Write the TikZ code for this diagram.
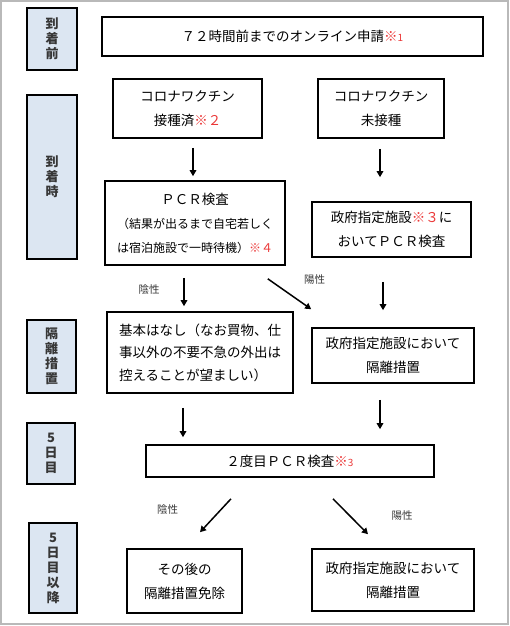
\documentclass[tikz,border=0pt]{standalone}
\usepackage{fontspec}
\setmainfont{Noto Sans CJK JP}
\usetikzlibrary{arrows.meta,calc}
\definecolor{lblfill}{RGB}{220,230,242}
\definecolor{notecol}{RGB}{235,55,55}
\definecolor{lbltext}{RGB}{55,55,55}
\newcommand\redref[1]{\textcolor{notecol}{#1}}
\begin{document}
\begin{tikzpicture}[x=1pt,y=-1pt,
  box/.style={draw=black,line width=1.6pt,fill=white,inner sep=0pt,align=center,font=\fontsize{13.5}{24}\selectfont},
  side/.style={draw=black,line width=1.6pt,fill=lblfill,inner sep=0pt,align=center,text=lbltext,font=\bfseries\fontsize{13}{15}\selectfont},
  arr/.style={line width=1.5pt,-{Triangle[length=6pt,width=6.5pt]}},
  res/.style={inner sep=0pt,text=lbltext,font=\fontsize{10.5}{12}\selectfont}]
\useasboundingbox (0,0) rectangle (510,626);
\draw[gray!55,line width=1.5pt] (1,1) rectangle (508,624);
% side labels
\node[side,minimum width=50pt,minimum height=62pt] (s1) at (52,39) {到\\着\\前};
\node[side,minimum width=50pt,minimum height=164pt] (s2) at (52,177) {到\\着\\時};
\node[side,minimum width=49pt,minimum height=73pt] (s3) at (51.5,356.5) {隔\\離\\措\\置};
\node[side,minimum width=48pt,minimum height=61pt] (s4) at (51,453.5) {5\\日\\目};
\node[side,minimum width=48pt,minimum height=90pt] (s5) at (53,568) {5\\日\\目\\以\\降};
% main boxes
\node[box,minimum width=381pt,minimum height=39pt] (top) at (292.5,36.5) {７２時間前までのオンライン申請\redref{※{\fontsize{10}{12}\selectfont 1}}};
\node[box,minimum width=149pt,minimum height=59pt] (vac) at (187.5,108.5) {コロナワクチン\\接種済\redref{※２}};
\node[box,minimum width=126pt,minimum height=59pt] (unvac) at (381,108.5) {コロナワクチン\\未接種};
\node[box,minimum width=180pt,minimum height=84pt] (pcr) at (195,223) {ＰＣＲ検査\\{\fontsize{12}{23.5}\selectfont （結果が出るまで自宅若しく}\\{\fontsize{12}{23.5}\selectfont は宿泊施設で一時待機）\redref{※４}}};
\node[box,minimum width=159pt,minimum height=55pt] (gpcr) at (391.5,229.5) {政府指定施設\redref{※３}に\\おいてＰＣＲ検査};
\node[box,align=left,minimum width=186pt,minimum height=81pt,font=\fontsize{13.5}{22.5}\selectfont] (basic) at (200,352.5) {基本はなし（なお買物、仕\\事以外の不要不急の外出は\\控えることが望ましい）};
\node[box,minimum width=162pt,minimum height=55pt] (giso) at (393,355.5) {政府指定施設において\\隔離措置};
\node[box,minimum width=288pt,minimum height=32pt] (pcr2) at (290,461) {２度目ＰＣＲ検査\redref{※{\fontsize{10}{12}\selectfont 3}}};
\node[box,minimum width=115pt,minimum height=64pt] (free) at (184.5,581) {その後の\\隔離措置免除};
\node[box,minimum width=162pt,minimum height=62pt] (giso2) at (393,580) {政府指定施設において\\隔離措置};
% arrows
\draw[arr] ([xshift=5.5pt,yshift=-9pt]vac.south) -- ([xshift=-2pt,yshift=4pt]pcr.north);
\draw[arr] ([xshift=-1pt,yshift=-10pt]unvac.south) -- ([xshift=-11.5pt,yshift=24pt]gpcr.north);
\draw[arr] ([xshift=-11pt,yshift=-12pt]pcr.south) -- ([xshift=-16pt,yshift=5pt]basic.north);
\draw[arr] ([xshift=-18pt,yshift=-13pt]pcr.south east) -- ([yshift=18pt]giso.north west);
\draw[arr] ([xshift=-8.5pt,yshift=-24pt]gpcr.south) -- ([xshift=-10pt,yshift=17pt]giso.north);
\draw[arr] ([xshift=-17pt,yshift=-14pt]basic.south) -- ([xshift=-107pt,yshift=7pt]pcr2.north);
\draw[arr] ([xshift=-13pt,yshift=-16pt]giso.south) -- ([xshift=90pt,yshift=15pt]pcr2.north);
\draw[arr] ([xshift=-59pt,yshift=-21pt]pcr2.south) -- ([xshift=15.5pt,yshift=16pt]free.north);
\draw[arr] ([xshift=43pt,yshift=-21pt]pcr2.south) -- ([xshift=-25pt,yshift=14pt]giso2.north);
% result labels
\node[res] (n1) at (149,290) {陰性};
\node[res] (p1) at (314.5,280) {陽性};
\node[res] (n2) at (167.5,510) {陰性};
\node[res] (p2) at (402,516) {陽性};
\end{tikzpicture}
\end{document}
